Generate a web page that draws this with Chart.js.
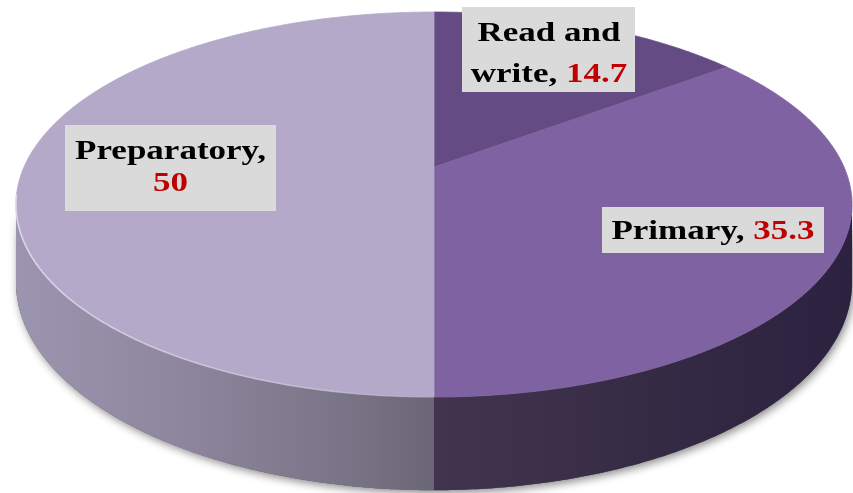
<!DOCTYPE html>
<html>
<head>
<meta charset="utf-8">
<script src="https://cdn.jsdelivr.net/npm/chart.js@4"></script>
<style>
html,body{margin:0;padding:0;background:#ffffff;}
#wrap{width:853px;height:493px;}
</style>
</head>
<body>
<div id="wrap"><canvas id="c" width="853" height="493"></canvas></div>
<script>
// ---- data ----
const categories = ['Read and write', 'Primary', 'Preparatory'];
const values = [14.7, 35.3, 50];
const valueText = ['14.7', '35.3', '50'];

// ---- styles ----
const topColors = ['#654b83', '#7e62a2', '#b4a9c8'];
const sideStops = [
  [[0, '#4a3a5c'], [1, '#3a2d4c']],
  [[0, '#42344f'], [0.5, '#362b45'], [1, '#2c2240']],
  [[0, '#9c95b0'], [0.35, '#8f889f'], [0.75, '#7c768a'], [1, '#6b6675']]
];
const labelRed = '#c00000';

// perspective projection settings (pie centre taken from the library's arc element)
const PROJ = { A: 410, B: 185.2, p: 0.195, D: 75 };

function project(cx, cy, t, down) {
  const u = Math.cos(t), v = Math.sin(t);
  const w = 1 - PROJ.p * v;
  return [cx + PROJ.A * u / w, cy + (PROJ.B * v + (down ? PROJ.D : 0)) / w];
}

function curve(ctx, cx, cy, a, b, down, first) {
  const n = Math.max(2, Math.ceil(Math.abs(b - a) * 120));
  for (let i = 0; i <= n; i++) {
    const t = a + (b - a) * i / n;
    const [x, y] = project(cx, cy, t, down);
    if (i === 0 && first) ctx.moveTo(x, y); else ctx.lineTo(x, y);
  }
}

const pie3d = {
  id: 'pie3d',
  beforeDatasetsDraw(chart) {
    const ctx = chart.ctx;
    const arcs = chart.getDatasetMeta(0).data;
    const cx = arcs[0].x, cy = arcs[0].y;
    const tR = Math.asin(PROJ.p), tL = Math.PI - Math.asin(PROJ.p);

    // shadow of whole body
    ctx.save();
    ctx.beginPath();
    curve(ctx, cx, cy, tR, tL, false, true);
    curve(ctx, cx, cy, tL, tR, true, false);
    ctx.closePath();
    ctx.shadowColor = 'rgba(0,0,0,0.45)';
    ctx.shadowBlur = 9;
    ctx.shadowOffsetX = 2;
    ctx.shadowOffsetY = 3;
    ctx.fillStyle = '#555';
    ctx.fill();
    ctx.restore();

    // side walls
    arcs.forEach((arc, i) => {
      const { startAngle, endAngle } = arc.getProps(['startAngle', 'endAngle'], true);
      const a = Math.max(startAngle, tR), b = Math.min(endAngle, tL);
      if (b <= a) return;
      const [xa] = project(cx, cy, a, false);
      const [xb] = project(cx, cy, b, false);
      const g = ctx.createLinearGradient(Math.min(xa, xb), 0, Math.max(xa, xb), 0);
      const st = sideStops[i];
      st.forEach(s => g.addColorStop(s[0], s[1]));
      ctx.beginPath();
      curve(ctx, cx, cy, a, b, false, true);
      curve(ctx, cx, cy, b, a, true, false);
      ctx.closePath();
      ctx.fillStyle = g;
      ctx.fill();
    });

    // top faces
    arcs.forEach((arc, i) => {
      const { startAngle, endAngle } = arc.getProps(['startAngle', 'endAngle'], true);
      ctx.beginPath();
      ctx.moveTo(cx, cy);
      curve(ctx, cx, cy, startAngle, endAngle, false, false);
      ctx.closePath();
      ctx.fillStyle = arc.options.backgroundColor;
      ctx.fill();
      ctx.strokeStyle = arc.options.backgroundColor;
      ctx.lineWidth = 0.8;
      ctx.stroke();
    });

    // light rim on the left front edge
    ctx.save();
    const [xl] = project(cx, cy, tL, false);
    const rg = ctx.createLinearGradient(xl, 0, cx, 0);
    rg.addColorStop(0, 'rgba(225,220,238,0.9)');
    rg.addColorStop(0.7, 'rgba(215,208,230,0.5)');
    rg.addColorStop(1, 'rgba(215,208,230,0)');
    ctx.beginPath();
    curve(ctx, cx, cy, Math.PI / 2, tL + 0.05, false, true);
    ctx.strokeStyle = rg;
    ctx.lineWidth = 1.6;
    ctx.stroke();
    ctx.restore();
    return false;
  },
  afterDraw(chart) {
    const ctx = chart.ctx;
    const SX = 1.25;
    const font = 'bold 28px "Liberation Serif", "Times New Roman", serif';
    const boxes = [
      { x: 462, y: 7, w: 173, h: 85, cx: 549, lines: [[['Read and', '#000']], [['write, ', '#000'], [valueText[0], labelRed]]], base: [41, 82] },
      { x: 602, y: 207, w: 222, h: 46, cx: 713, lines: [[['Primary, ', '#000'], [valueText[1], labelRed]]], base: [239] },
      { x: 65, y: 125, w: 211, h: 86, cx: 170.5, lines: [[['Preparatory,', '#000']], [[valueText[2], labelRed]]], base: [159, 191] }
    ];
    ctx.save();
    boxes.forEach(bx => {
      ctx.fillStyle = '#dadada';
      ctx.fillRect(bx.x, bx.y, bx.w, bx.h);
      ctx.font = font;
      ctx.textBaseline = 'alphabetic';
      ctx.textAlign = 'left';
      bx.lines.forEach((parts, li) => {
        const total = parts.reduce((s, p) => s + ctx.measureText(p[0]).width, 0);
        ctx.save();
        ctx.translate(bx.cx, bx.base[li]);
        ctx.scale(SX, 1);
        let x = -total / 2;
        parts.forEach(p => {
          ctx.fillStyle = p[1];
          ctx.fillText(p[0], x, 0);
          x += ctx.measureText(p[0]).width;
        });
        ctx.restore();
      });
    });
    ctx.restore();
  }
};

new Chart(document.getElementById('c'), {
  type: 'pie',
  data: {
    labels: categories,
    datasets: [{ data: values, backgroundColor: topColors, borderWidth: 0 }]
  },
  options: {
    responsive: false,
    animation: false,
    devicePixelRatio: 1,
    events: [],
    layout: { padding: { left: 279, right: 264, top: 12, bottom: 171 } },
    plugins: { legend: { display: false }, tooltip: { enabled: false } }
  },
  plugins: [pie3d]
});
</script>
</body>
</html>
